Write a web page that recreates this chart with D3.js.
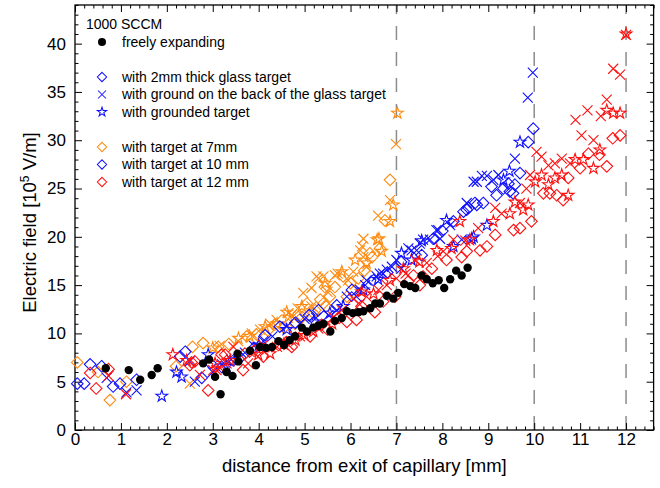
<!DOCTYPE html>
<html>
<head>
<meta charset="utf-8">
<script src="https://cdn.jsdelivr.net/npm/d3@7"></script>
<style>
  body { margin: 0; background: #fff; }
  svg { display: block; }
  text { font-family: "Liberation Sans", Arial, sans-serif; fill: #000; }
</style>
</head>
<body>
<svg id="chart" width="660" height="488"></svg>
<script>
// Electric field along the jet, 1000 SCCM; each point is [distance (mm), field (1e5 V/m)]
const freelyExpanding = [
  [0.67,6.4],[1.17,6.2],[1.42,5.2],[1.67,5.7],[1.80,6.4],[2.79,6.9],[2.92,7.3],[3.05,5.5],
  [3.17,3.7],[3.30,6.0],[3.43,5.6],[3.54,7.9],[3.56,7.1],[3.81,8.2],[3.94,6.7],[4.03,8.6],
  [4.16,8.5],[4.29,8.6],[4.43,9.2],[4.55,8.8],[4.67,9.3],[4.79,9.7],[4.94,10.6],[5.05,10.2],
  [5.19,10.6],[5.30,10.8],[5.41,11.0],[5.56,10.2],[5.66,11.3],[5.81,11.6],[5.92,12.3],[6.05,12.1],
  [6.17,12.2],[6.28,12.3],[6.43,12.6],[6.54,13.1],[6.64,13.1],[6.79,13.9],[6.93,13.6],[7.04,14.2],
  [7.17,15.1],[7.30,14.9],[7.41,14.7],[7.55,16.0],[7.66,15.6],[7.79,15.2],[7.92,15.5],[8.04,14.7],
  [8.17,15.6],[8.30,16.5],[8.42,16.0],[8.55,16.8]
];

// target at 7 mm
const glass7 = [
  [0.05,7.0],[0.5,6.0],[0.76,3.1],[1.12,5.0],[2.2,6.6],[2.56,8.6],[2.79,9.0],[3.12,8.6],
  [3.35,8.9],[3.74,9.7],[3.95,9.9],[4.2,10.3],[4.35,10.9],[4.55,10.6],[4.79,11.0],[4.86,11.7],
  [4.95,11.7],[5.05,13.1],[5.19,12.1],[5.23,12.4],[5.34,13.5],[5.41,13.1],[5.47,12.8],[5.44,14.8],
  [5.55,13.8],[5.66,14.8],[5.84,15.9],[5.92,13.8],[6.0,15.2],[6.17,15.7],[6.3,16.5],[6.42,18.3],
  [6.47,17.9],[6.64,18.8],[6.75,21.7],[6.86,25.9]
];
const ground7 = [
  [2.5,4.8],[3.15,8.7],[3.55,9.2],[3.85,10.0],[4.03,10.4],[4.25,11.0],[4.39,11.4],[4.65,12.1],
  [4.72,11.9],[4.85,12.6],[4.97,14.2],[5.15,12.8],[5.15,14.7],[5.26,15.9],[5.30,15.7],[5.41,15.9],
  [5.5,14.3],[5.66,16.0],[5.72,16.2],[5.95,15.5],[6.06,16.4],[6.17,14.5],[6.21,18.6],[6.25,19.0],
  [6.28,17.9],[6.28,19.8],[6.35,16.9],[6.6,22.2],[6.86,23.8],[6.99,29.6]
];
const grounded7 = [
  [3.0,8.5],[3.56,9.5],[3.8,9.7],[4.14,10.7],[4.4,11.0],[4.61,12.2],[4.65,11.7],[4.94,12.8],
  [5.45,15.2],[5.81,16.4],[6.1,17.6],[6.35,17.3],[6.58,19.7],[6.62,19.8],[6.68,18.5],[6.86,21.6],
  [6.93,23.3],[7.02,32.8]
];

// target at 10 mm
const glass10 = [
  [0.05,4.8],[0.2,4.8],[0.33,6.8],[0.58,6.6],[0.83,4.5],[0.98,4.8],[1.34,5.2],[2.29,7.6],
  [2.40,8.1],[2.76,5.4],[2.95,6.9],[3.2,6.5],[3.45,7.2],[3.6,7.5],[3.9,8.5],[4.14,9.8],
  [4.46,10.7],[4.8,11.1],[5.1,11.9],[5.30,12.4],[5.7,12.9],[6.03,14.5],[6.5,15.5],[6.8,16.3],
  [7.1,17.4],[7.55,18.1],[7.8,19.8],[8.0,20.6],[8.24,21.6],[8.46,22.6],[8.53,22.8],[8.57,23.0],
  [8.71,23.5],[8.75,23.3],[8.89,23.5],[9.07,25.2],[9.18,24.3],[9.33,25.0],[9.44,25.5],[9.47,24.7],
  [9.54,24.5],[9.58,25.4],[9.69,26.6],[9.87,29.8],[9.98,31.2]
];
const ground10 = [
  [0.69,5.4],[1.12,3.9],[1.34,4.1],[2.5,7.1],[2.61,5.0],[3.0,6.0],[3.2,6.8],[3.4,7.3],
  [3.7,8.0],[3.9,8.7],[4.1,9.2],[4.3,9.7],[4.61,10.7],[4.9,11.0],[5.0,11.5],[5.25,11.6],
  [5.52,11.9],[5.7,12.4],[5.92,13.8],[6.13,13.8],[6.21,14.5],[6.32,15.0],[6.35,15.5],[6.57,15.9],
  [6.64,16.2],[6.71,16.2],[6.79,16.6],[6.90,16.9],[7.0,17.6],[7.11,16.7],[7.26,18.8],[7.33,18.6],
  [7.44,18.6],[7.51,19.3],[7.58,19.7],[7.73,19.7],[7.87,20.7],[7.91,20.7],[7.95,19.8],[8.17,21.2],
  [8.42,19.7],[8.53,23.5],[8.68,25.7],[8.75,25.7],[8.86,26.3],[8.97,26.3],[9.11,25.9],[9.22,26.4],
  [9.58,28.1],[9.86,34.4],[9.97,37.0]
];
const grounded10 = [
  [1.89,3.5],[2.21,6.0],[2.32,5.5],[2.9,7.8],[3.3,6.6],[4.0,8.8],[4.61,10.4],[5.2,11.2],
  [5.55,12.1],[5.84,12.8],[6.28,14.5],[6.6,15.6],[7.11,18.3],[7.33,17.6],[7.55,19.6],[8.09,21.7],
  [8.24,19.0],[8.64,19.8],[8.68,20.0],[8.97,21.2],[9.33,25.9],[9.46,26.8],[9.69,29.8]
];

// target at 12 mm
const glass12 = [
  [0.33,5.9],[0.46,4.3],[0.73,6.3],[2.54,7.0],[2.61,7.1],[2.50,6.7],[2.90,4.1],[3.19,7.8],
  [3.27,7.8],[3.66,6.2],[3.70,7.9],[3.9,8.2],[4.1,7.6],[4.43,8.8],[4.6,9.1],[4.72,8.6],
  [5.12,9.7],[5.37,10.9],[5.5,10.4],[5.75,11.6],[5.92,11.2],[6.13,11.4],[6.24,12.8],[6.53,12.2],
  [6.71,13.3],[6.97,13.8],[7.26,15.4],[7.37,16.0],[7.51,15.0],[7.58,15.9],[7.77,16.7],[8.09,17.6],
  [8.42,17.9],[8.53,18.5],[8.82,18.6],[8.97,19.0],[9.15,20.2],[9.55,20.7],[9.69,20.9],[9.94,21.6],
  [10.2,24.5],[10.34,24.5],[10.49,24.3],[10.63,23.8],[10.74,26.1],[11.0,27.1],[11.18,28.6],[11.42,28.5],
  [11.58,27.3],[11.71,30.2],[11.87,30.5]
];
const ground12 = [
  [0.73,5.6],[1.11,3.7],[2.72,5.7],[3.01,6.2],[3.08,6.2],[3.16,6.4],[3.3,6.9],[3.45,8.6],
  [3.77,6.9],[3.9,8.0],[4.10,8.8],[4.4,8.6],[4.65,8.8],[4.79,9.7],[4.9,9.7],[5.3,10.5],
  [5.63,11.7],[5.81,12.4],[6.06,13.6],[6.2,13.0],[6.35,13.8],[6.61,14.5],[6.79,15.0],[7.0,15.7],
  [7.2,16.2],[7.41,17.6],[7.66,17.3],[7.9,18.0],[8.02,18.5],[8.24,19.7],[8.5,19.6],[8.78,20.9],
  [9.15,23.0],[9.29,22.4],[9.69,23.5],[9.83,25.0],[9.91,26.4],[10.05,28.8],[10.16,28.3],[10.31,27.4],
  [10.45,27.6],[10.6,28.1],[10.78,27.6],[10.9,32.1],[11.03,30.5],[11.16,33.1],[11.29,30.0],[11.45,32.5],
  [11.58,34.2],[11.72,37.4],[11.87,36.8],[12.0,40.9]
];
const grounded12 = [
  [2.13,7.8],[2.43,7.2],[3.05,6.9],[3.38,7.2],[3.99,7.8],[4.25,7.9],[4.55,8.9],[4.8,9.3],
  [5.0,9.8],[5.19,10.2],[5.6,11.0],[6.24,14.3],[6.5,14.1],[6.86,15.5],[7.15,16.7],[7.5,17.4],
  [7.88,18.6],[8.20,18.8],[8.38,21.6],[8.6,19.7],[9.11,21.6],[9.47,22.4],[9.58,23.6],[9.76,22.8],
  [9.87,23.3],[10.02,25.7],[10.16,26.4],[10.31,25.4],[10.45,26.1],[10.6,26.4],[10.74,24.3],[10.89,28.0],
  [11.07,28.0],[11.29,27.1],[11.43,29.0],[11.58,33.1],[11.72,32.8],[11.87,32.8],[12.0,41.0]
];

const targetPositions = [7, 10, 12];
const xTickValues = d3.range(0, 13);
const yTickValues = [0, 5, 10, 15, 20, 25, 30, 35, 40];

const orange = "#ff8a10", blue = "#1010ff", red = "#ff1010";

const series = [
  { data: glass7, shape: "diamond", color: orange },
  { data: ground7, shape: "cross", color: orange },
  { data: grounded7, shape: "star", color: orange },
  { data: glass10, shape: "diamond", color: blue },
  { data: ground10, shape: "cross", color: blue },
  { data: grounded10, shape: "star", color: blue },
  { data: glass12, shape: "diamond", color: red },
  { data: ground12, shape: "cross", color: red },
  { data: grounded12, shape: "star", color: red }
];

const svg = d3.select("#chart");
const plotLeft = 75, plotRight = 653.6, plotTop = 5, plotBottom = 430;
const x = d3.scaleLinear().domain([0, 12.6]).range([plotLeft, plotRight]);
const y = d3.scaleLinear().domain([0, 44]).range([plotBottom, plotTop]);

// marker paths
const shapes = {
  diamond: "M0,-5.8L5.8,0L0,5.8L-5.8,0Z",
  cross: "M-5,-5L5,5M-5,5L5,-5",
  star: d3.symbol().type(d3.symbolStar).size(42)()
};

// target positions
svg.append("g").selectAll("line").data(targetPositions).join("line")
  .attr("x1", d => x(d)).attr("x2", d => x(d))
  .attr("y1", plotBottom).attr("y2", plotTop)
  .attr("stroke", "#8c8c8c").attr("stroke-width", 1.5)
  .attr("stroke-dasharray", "14,12");

// axes with inward ticks on all four sides
const minorX = d3.range(0, 12.61, 0.2).filter(v => Math.abs(v - Math.round(v)) > 1e-6);
const minorY = d3.range(0, 44.01, 1).filter(v => v % 5 !== 0);
const axisStyle = g => { g.select(".domain").remove(); g.selectAll("line").attr("stroke", "#000").attr("stroke-width", 1); };

svg.append("g").attr("transform", `translate(0,${plotBottom})`)
  .call(d3.axisBottom(x).tickValues(xTickValues).tickSizeInner(-7).tickSizeOuter(0).tickPadding(3).tickFormat(d3.format("d")))
  .call(axisStyle)
  .call(g => g.selectAll("text").attr("font-size", 17).attr("font-family", "Liberation Sans, Arial, sans-serif"));
svg.append("g").attr("transform", `translate(0,${plotBottom})`)
  .call(d3.axisBottom(x).tickValues(minorX).tickSize(-3.5).tickFormat(""))
  .call(axisStyle);
svg.append("g").attr("transform", `translate(0,${plotTop})`)
  .call(d3.axisTop(x).tickValues(xTickValues).tickSize(-7).tickFormat(""))
  .call(axisStyle);
svg.append("g").attr("transform", `translate(0,${plotTop})`)
  .call(d3.axisTop(x).tickValues(minorX).tickSize(-3.5).tickFormat(""))
  .call(axisStyle);

svg.append("g").attr("transform", `translate(${plotLeft},0)`)
  .call(d3.axisLeft(y).tickValues(yTickValues).tickSizeInner(-7).tickSizeOuter(0).tickPadding(9).tickFormat(d3.format("d")))
  .call(axisStyle)
  .call(g => g.selectAll("text").attr("font-size", 17).attr("font-family", "Liberation Sans, Arial, sans-serif"));
svg.append("g").attr("transform", `translate(${plotLeft},0)`)
  .call(d3.axisLeft(y).tickValues(minorY).tickSize(-3.5).tickFormat(""))
  .call(axisStyle);
svg.append("g").attr("transform", `translate(${plotRight},0)`)
  .call(d3.axisRight(y).tickValues(yTickValues).tickSize(-7).tickFormat(""))
  .call(axisStyle);
svg.append("g").attr("transform", `translate(${plotRight},0)`)
  .call(d3.axisRight(y).tickValues(minorY).tickSize(-3.5).tickFormat(""))
  .call(axisStyle);

svg.append("rect")
  .attr("x", plotLeft).attr("y", plotTop)
  .attr("width", plotRight - plotLeft).attr("height", plotBottom - plotTop)
  .attr("fill", "none").attr("stroke", "#000").attr("stroke-width", 1.3);

// measured points
const plot = svg.append("g");
series.forEach(s => {
  plot.append("g").selectAll("path").data(s.data).join("path")
    .attr("transform", d => `translate(${x(d[0])},${y(d[1])})`)
    .attr("d", shapes[s.shape])
    .attr("fill", "none")
    .attr("stroke", s.color)
    .attr("stroke-width", 1.1);
});
plot.append("g").selectAll("circle").data(freelyExpanding).join("circle")
  .attr("cx", d => x(d[0])).attr("cy", d => y(d[1]))
  .attr("r", 4.2).attr("fill", "#000");

// axis titles
svg.append("text")
  .attr("x", (plotLeft + plotRight) / 2).attr("y", 472)
  .attr("text-anchor", "middle").attr("font-size", 18.5)
  .text("distance from exit of capillary [mm]");

const yTitle = svg.append("text")
  .attr("transform", `translate(36,${(plotTop + plotBottom) / 2 + 5}) rotate(-90)`)
  .attr("text-anchor", "middle").attr("font-size", 18.5);
yTitle.append("tspan").text("Electric field [10");
yTitle.append("tspan").attr("font-size", 12).attr("dy", -7).text("5");
yTitle.append("tspan").attr("dy", 7).text(" V/m]");

// legend
const legendItems = [
  { label: "freely expanding", shape: "dot", color: "#000", yPos: 42 },
  { label: "with 2mm thick glass target", shape: "diamond", color: blue, yPos: 77 },
  { label: "with ground on the back of the glass target", shape: "cross", color: blue, yPos: 94.5 },
  { label: "with grounded target", shape: "star", color: blue, yPos: 112 },
  { label: "with target at 7mm", shape: "diamond", color: orange, yPos: 147 },
  { label: "with target at 10 mm", shape: "diamond", color: blue, yPos: 164.5 },
  { label: "with target at 12 mm", shape: "diamond", color: red, yPos: 182 }
];
const legend = svg.append("g");
legend.append("text").attr("x", 86).attr("y", 24).attr("dy", "0.35em")
  .attr("font-size", 14).text("1000 SCCM");
legendItems.forEach(it => {
  if (it.shape === "dot") {
    legend.append("circle").attr("cx", 102).attr("cy", it.yPos).attr("r", 4).attr("fill", "#000");
  } else {
    legend.append("path").attr("transform", `translate(102,${it.yPos}) scale(0.8)`)
      .attr("d", shapes[it.shape]).attr("fill", "none")
      .attr("stroke", it.color).attr("stroke-width", 1.3);
  }
  legend.append("text").attr("x", 122).attr("y", it.yPos).attr("dy", "0.35em")
    .attr("font-size", 14).text(it.label);
});
</script>
</body>
</html>
